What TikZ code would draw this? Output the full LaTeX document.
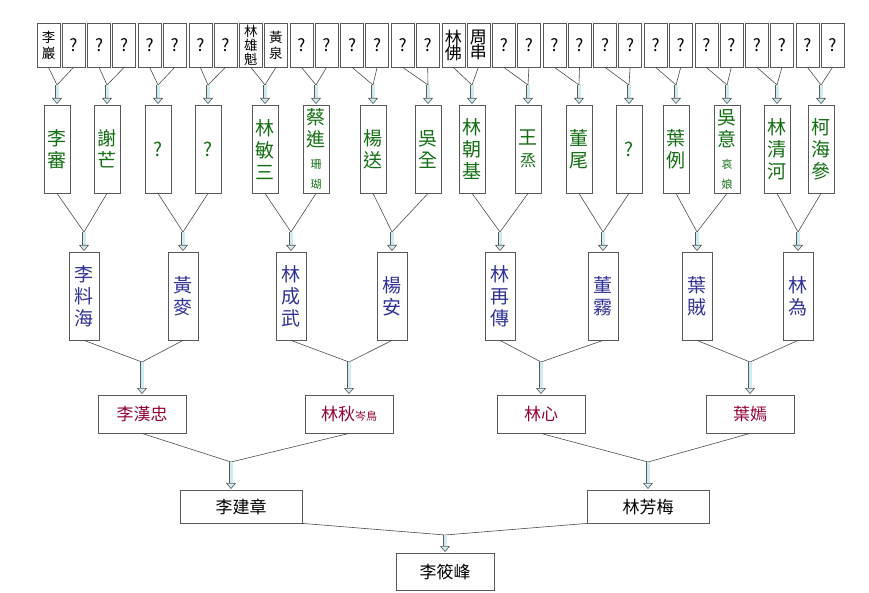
\documentclass[tikz,border=0pt]{standalone}
\usepackage{fontspec}
\setmainfont{Noto Sans CJK TC}
\usetikzlibrary{arrows.meta}
\definecolor{gen5}{RGB}{20,110,20}
\definecolor{gen4}{RGB}{50,50,150}
\definecolor{gen3}{RGB}{150,0,60}
\definecolor{arrfill}{RGB}{205,235,240}
\tikzset{
  box/.style={draw=gray!70!black, fill=white, inner sep=0pt, align=center},
  top/.style={box, minimum width=23pt, minimum height=44pt, font=\fontsize{17}{17}\selectfont, anchor=north},
  grn/.style={box, minimum width=26pt, minimum height=88pt, text=gen5, font=\fontsize{19}{22}\selectfont, anchor=north},
  blu/.style={box, minimum width=30pt, minimum height=88pt, text=gen4, font=\fontsize{19}{22}\selectfont, anchor=north},
  red/.style={box, minimum width=88pt, minimum height=38pt, text=gen3, font=\fontsize{17}{17}\selectfont, anchor=north},
  blk/.style={box, minimum width=122pt, minimum height=33pt, font=\fontsize{17}{17}\selectfont, anchor=north},
  link/.style={draw=gray!60!black, line width=0.6pt},
  famarr/.style={draw=gray!70!black, double=arrfill, double distance=3pt, line width=0.6pt,
    -{Triangle[open, length=6pt, width=10pt, fill=arrfill]}, shorten >=1pt}
}
\newcommand{\sm}[1]{{\fontsize{11}{11}\selectfont #1}}
\newcommand{\tp}[1]{{\fontsize{13.5}{13.5}\selectfont #1}}
\begin{document}
\begin{tikzpicture}[x=1pt, y=-1pt]
\useasboundingbox (0,0) rectangle (869,593);
% top row
\foreach \txt [count=\i from 0] in {
  {\tp{李}\\[-1pt]\tp{巖}},?,?,?,?,?,?,?,{\tp{林}\\[-3pt]\tp{雄}\\[-3pt]\tp{魁}},{\tp{黃}\\[-1pt]\tp{泉}},?,?,?,?,?,?,
  {林\\[-2pt]佛},{周\\[-2pt]串},?,?,?,?,?,?,?,?,?,?,?,?,?,?}{
  \pgfmathsetmacro{\px}{48.5+50.6*int(\i/2)+25*mod(\i,2)}
  \node[top] (t\i) at (\px,23) {\txt};
}
% generation 5
\foreach \txt/\gx [count=\i from 0] in {
  {李\\審}/57, {謝\\芒}/107, ?/158, ?/208, {林\\敏\\三}/265, {蔡\\進\\\sm{珊}\\[-2pt]\sm{瑚}}/316,
  {楊\\送}/373, {吳\\全}/428, {林\\朝\\基}/472, {王\\\fontsize{16}{16}\selectfont 烝}/528, {董\\尾}/579, ?/629,
  {葉\\例}/676, {吳\\意\\\sm{哀}\\[-2pt]\sm{娘}}/727, {林\\清\\河}/777, {柯\\海\\參}/821}{
  \node[grn] (g\i) at (\gx,105) {\txt};
  \coordinate (jg\i) at (\gx,85);
  \pgfmathtruncatemacro{\a}{2*\i}
  \pgfmathtruncatemacro{\b}{2*\i+1}
  \draw[link] (t\a.south) -- (jg\i) -- (t\b.south);
  \draw[famarr] (jg\i) -- (g\i.north);
}
% generation 4
\foreach \txt/\bx [count=\i from 0] in {
  {李\\料\\海}/84, {黃\\麥}/183, {林\\成\\武}/291, {楊\\安}/392,
  {林\\再\\傳}/500, {董\\霧}/603, {葉\\賊}/697, {林\\為}/798}{
  \node[blu] (b\i) at (\bx,252) {\txt};
  \coordinate (jb\i) at (\bx,232);
  \pgfmathtruncatemacro{\a}{2*\i}
  \pgfmathtruncatemacro{\b}{2*\i+1}
  \draw[link] (g\a.south) -- (jb\i) -- (g\b.south);
  \draw[famarr] (jb\i) -- (b\i.north);
}
% generation 3
\foreach \txt/\rx [count=\i from 0] in {
  李漢忠/142, {林秋\sm{岑鳥}}/349, 林心/541, 葉嫣/750}{
  \node[red] (r\i) at (\rx,395) {\txt};
  \coordinate (jr\i) at (\rx,362);
  \pgfmathtruncatemacro{\a}{2*\i}
  \pgfmathtruncatemacro{\b}{2*\i+1}
  \draw[link] (b\a.south) -- (jr\i) -- (b\b.south);
  \draw[famarr] (jr\i) -- (r\i.north);
}
% parents
\node[blk] (father) at (241,490) {李建章};
\node[blk] (mother) at (648,490) {林芳梅};
\coordinate (jf) at (231,462);
\coordinate (jm) at (648,462);
\draw[link] (r0.south) -- (jf) -- (r1.south);
\draw[link] (r2.south) -- (jm) -- (r3.south);
\draw[famarr] (jf) -- (jf |- father.north);
\draw[famarr] (jm) -- (mother.north);
% self
\node[blk, minimum width=98pt, minimum height=37pt] (self) at (445,553) {李筱峰};
\coordinate (js) at (445,535);
\draw[link] (father.south east) -- (js) -- (mother.south west);
\draw[famarr] (js) -- (self.north);
\end{tikzpicture}
\end{document}
